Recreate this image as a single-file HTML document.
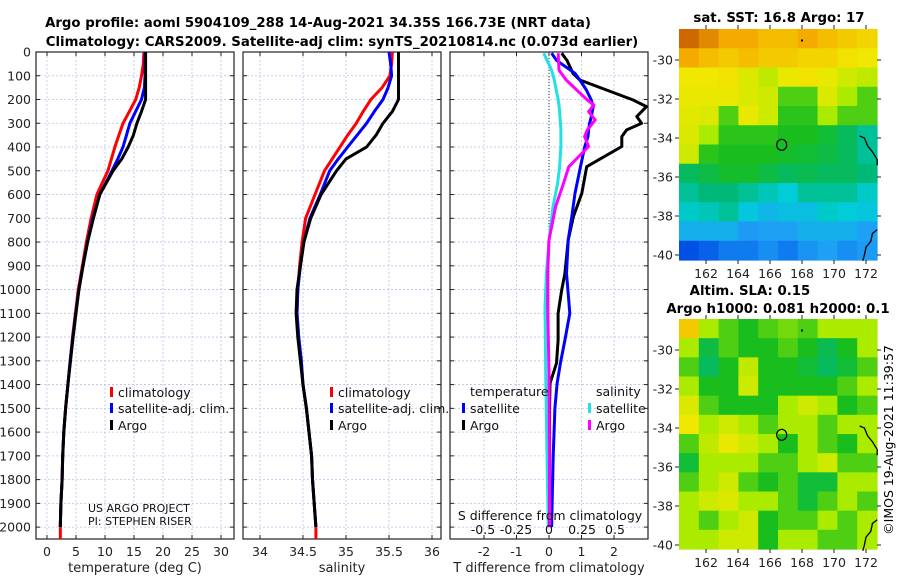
<!DOCTYPE html>
<html><head><meta charset="utf-8">
<style>
html,body{margin:0;padding:0;background:#fff;}
svg{display:block;font-family:"DejaVu Sans","Liberation Sans",sans-serif;}
</style></head>
<body>
<svg id="chart" width="900" height="580" viewBox="0 0 900 580" xmlns="http://www.w3.org/2000/svg">
<text x="318" y="27" font-size="13.3" font-weight="bold" text-anchor="middle">Argo profile: aoml 5904109_288 14-Aug-2021 34.35S 166.73E (NRT data)</text>
<text x="342" y="46" font-size="13.3" font-weight="bold" text-anchor="middle">Climatology: CARS2009. Satellite-adj clim: synTS_20210814.nc (0.073d earlier)</text>
<g id="g1"></g>
<g id="g2"></g>
<g id="g3"></g>
<g id="m1"></g>
<g id="m2"></g>
<text x="779" y="22" font-size="13.3" font-weight="bold" text-anchor="middle">sat. SST: 16.8 Argo: 17</text>
<text x="750" y="295" font-size="13.3" font-weight="bold" text-anchor="middle">Altim. SLA: 0.15</text>
<text x="778" y="313" font-size="13.3" font-weight="bold" text-anchor="middle">Argo h1000: 0.081 h2000: 0.1</text>
<text transform="translate(893,440) rotate(-90)" font-size="12.5" text-anchor="middle">©IMOS 19-Aug-2021 11:39:57</text>
</svg>
<script>
// ---------- data ----------
const depths = [0,50,100,150,200,250,300,350,400,450,500,600,700,800,900,1000,1100,1200,1300,1400,1500,1600,1700,1800,1900,2000];
const tempClim = [16.7,16.6,16.3,15.9,15.3,14.2,13.1,12.4,11.7,11.1,10.5,8.6,7.6,6.8,6.1,5.4,4.9,4.4,4.0,3.6,3.2,2.9,2.7,2.6,2.4,2.3];
const tempSat  = [16.9,16.9,16.9,16.8,16.3,15.3,14.3,13.7,13.1,12.2,11.2,9.1,7.9,7.0,6.2,5.5,4.95,4.45,4.0,3.6,3.2,2.9,2.7,2.6,2.4,2.3];
const tempArgo = [17.0,17.0,17.0,17.0,17.0,16.3,15.5,14.9,14.0,12.9,11.4,9.1,8.0,7.0,6.2,5.5,5.0,4.5,4.05,3.6,3.2,2.9,2.7,2.6,2.4,2.3];
const salClim = [35.54,35.53,35.51,35.42,35.29,35.2,35.12,35.02,34.93,34.84,34.75,34.64,34.53,34.49,34.46,34.44,34.43,34.45,34.48,34.50,34.54,34.57,34.60,34.61,34.63,34.65];
const salSat  = [35.50,35.52,35.53,35.49,35.43,35.33,35.24,35.13,35.02,34.91,34.81,34.70,34.58,34.51,34.47,34.44,34.43,34.45,34.48,34.50,34.54,34.57,34.60,34.61,34.63,34.65];
const salArgo = [35.61,35.61,35.61,35.61,35.61,35.54,35.43,35.35,35.24,35.0,34.89,34.71,34.59,34.51,34.47,34.43,34.42,34.44,34.47,34.50,34.54,34.57,34.60,34.61,34.63,34.65];
const tdDepth = [5,35,90,118,160,202,230,272,300,328,356,398,483,595,693,792,932,1002,1100,1213,1310,1395,1500,1700,2000];
const tdiffArgo = [0.39,0.55,0.74,0.95,1.77,2.59,3.0,2.7,2.85,2.39,2.24,2.24,1.16,1.01,0.75,0.59,0.49,0.39,0.28,0.28,0.23,0.03,0.02,0.02,0.02];
const tdiffSat  = [0.08,0.23,0.8,0.95,1.15,1.3,1.36,1.3,1.25,1.22,1.2,1.1,0.97,0.8,0.7,0.59,0.54,0.58,0.64,0.49,0.35,0.25,0.18,0.13,0.08];
const sdDepth = [5,76,118,202,223,251,286,328,356,398,483,553,651,792,932,1072,1353,1700,2000];
const sdiffArgo = [0.07,0.076,0.13,0.29,0.34,0.30,0.35,0.29,0.27,0.30,0.15,0.11,0.05,0.0,-0.01,-0.01,0.0,0.003,0.005];
const sdiffSat  = [-0.04,0.02,0.04,0.07,0.076,0.08,0.085,0.09,0.09,0.09,0.08,0.065,0.03,0.0,-0.02,-0.03,-0.025,-0.015,-0.005];
const depthTicks = [0,100,200,300,400,500,600,700,800,900,1000,1100,1200,1300,1400,1500,1600,1700,1800,1900,2000];
const tempTicks = [0,5,10,15,20,25,30];
const salTicks = [34,34.5,35,35.5,36];
const tdTicks = [-2,-1,0,1,2];
const sdTicks = [-0.5,-0.25,0,0.25,0.5];
const latTicks = [-30,-32,-34,-36,-38,-40];
const lonTicks = [162,164,166,168,170,172];
const sstGrid = [
[0.85,0.8,0.75,0.75,0.72,0.72,0.75,0.72,0.7,0.68],
[0.75,0.72,0.7,0.72,0.7,0.7,0.68,0.68,0.66,0.65],
[0.65,0.65,0.66,0.62,0.58,0.64,0.66,0.64,0.6,0.58],
[0.64,0.64,0.64,0.62,0.6,0.5,0.5,0.62,0.55,0.5],
[0.63,0.62,0.5,0.64,0.6,0.48,0.48,0.55,0.5,0.5],
[0.62,0.55,0.48,0.48,0.48,0.47,0.47,0.45,0.42,0.38],
[0.6,0.48,0.47,0.47,0.47,0.46,0.45,0.44,0.42,0.38],
[0.42,0.44,0.46,0.46,0.44,0.42,0.43,0.42,0.42,0.4],
[0.38,0.4,0.4,0.38,0.36,0.34,0.38,0.38,0.38,0.35],
[0.35,0.36,0.38,0.33,0.31,0.32,0.32,0.35,0.34,0.33],
[0.3,0.3,0.3,0.27,0.28,0.28,0.3,0.3,0.3,0.28],
[0.15,0.18,0.22,0.22,0.25,0.22,0.26,0.28,0.25,0.27]];
const slaGrid = [
[0.7,0.55,0.5,0.47,0.5,0.52,0.5,0.55,0.55,0.55],
[0.55,0.44,0.5,0.47,0.47,0.5,0.47,0.43,0.47,0.55],
[0.5,0.42,0.47,0.58,0.47,0.47,0.45,0.42,0.45,0.5],
[0.55,0.47,0.47,0.6,0.47,0.47,0.47,0.47,0.5,0.55],
[0.62,0.5,0.47,0.47,0.47,0.55,0.6,0.55,0.47,0.5],
[0.65,0.55,0.6,0.55,0.5,0.55,0.55,0.5,0.55,0.55],
[0.5,0.58,0.64,0.6,0.55,0.47,0.55,0.5,0.47,0.55],
[0.45,0.55,0.55,0.55,0.5,0.5,0.55,0.6,0.5,0.5],
[0.5,0.55,0.6,0.5,0.47,0.5,0.45,0.45,0.55,0.55],
[0.55,0.6,0.62,0.55,0.55,0.5,0.45,0.5,0.55,0.5],
[0.55,0.5,0.55,0.6,0.47,0.5,0.5,0.55,0.5,0.55],
[0.55,0.55,0.6,0.6,0.47,0.55,0.55,0.5,0.5,0.55]];
const argoLon = 166.73, argoLat = -34.35;

// ---------- helpers ----------
const NS="http://www.w3.org/2000/svg";
function mk(parent,tag,attrs,text){const e=document.createElementNS(NS,tag);for(const k in attrs)e.setAttribute(k,attrs[k]);if(text!==undefined)e.textContent=text;parent.appendChild(e);return e;}
const yTop=52, yBot=539;
const yD = d => yTop + d*(yBot-yTop)/2050;
function lin(d0,d1,r0,r1){return v=>r0+(v-d0)*(r1-r0)/(d1-d0);}
function fmt(v){return String(v);}

function panel(g,x0,x1,xs,xticks,showY){
  xticks.forEach(t=>{const l=mk(g,'line',{x1:xs(t),x2:xs(t),y1:yTop,y2:yBot,stroke:'#b8c4e8','stroke-width':0.8,'stroke-dasharray':'2,2'});
    
    });
  depthTicks.forEach(d=>{const l=mk(g,'line',{x1:x0,x2:x1,y1:yD(d),y2:yD(d),stroke:'#b8c4e8','stroke-width':0.8,'stroke-dasharray':'2,2'});
    
    
    mk(g,'line',{x1:x0,x2:x0+4,y1:yD(d),y2:yD(d),stroke:'#222'});
    mk(g,'line',{x1:x1-4,x2:x1,y1:yD(d),y2:yD(d),stroke:'#222'});
    if(showY){const t=mk(g,'text',{x:x0-5,y:yD(d)+4.5,'font-size':12.5,'text-anchor':'end',fill:'#222'},d);
      
      }
  });
  xticks.forEach(t=>{mk(g,'line',{x1:xs(t),x2:xs(t),y1:yBot,y2:yBot-4,stroke:'#222'});mk(g,'line',{x1:xs(t),x2:xs(t),y1:yTop,y2:yTop+4,stroke:'#222'});});
  const r=mk(g,'rect',{x:x0,y:yTop,width:x1-x0,height:yBot-yTop,fill:'none',stroke:'#222','stroke-width':1.2});
  
  
}
function line(g,xs,dArr,vArr,color,w,name){
  const pts=vArr.map((v,i)=>xs(v).toFixed(1)+','+yD(dArr[i]).toFixed(1)).join(' ');
  const p=mk(g,'polyline',{points:pts,fill:'none',stroke:color,'stroke-width':w,'stroke-linejoin':'round'});
  
  
}
function xlabels(g,xs,ticks,y){ticks.forEach(t=>{const e=mk(g,'text',{x:xs(t),y:y,'font-size':12.5,'text-anchor':'middle',fill:'#222'},fmt(t));
  
  });}
function legendEntry(g,x,y,color,label){
  mk(g,'rect',{x:x,y:y-10,width:3,height:10,fill:color});
  const t=mk(g,'text',{x:x+8,y:y,'font-size':12.5,fill:'#111'},label);
  
  
}

// ---------- panel 1 ----------
const g1=document.getElementById('g1');
const xT=lin(0,30,47,221);
panel(g1,36,234,xT,tempTicks,true);
line(g1,xT,depths,tempClim,'#ff0000',3,'temp-climatology-line');
line(g1,xT,depths,tempSat,'#0000ff',3,'temp-satellite-line');
line(g1,xT,depths,tempArgo,'#000000',3,'temp-argo-line');
mk(g1,'line',{x1:xT(tempClim[25]),x2:xT(tempClim[25]),y1:yD(2000),y2:yBot,stroke:'#ff0000','stroke-width':3});
legendEntry(g1,110,397,'#ff0000','climatology');
legendEntry(g1,110,413,'#0000ff','satellite-adj. clim.');
legendEntry(g1,110,430,'#000000','Argo');
mk(g1,'text',{x:88,y:512,'font-size':11,fill:'#111'},'US ARGO PROJECT');
mk(g1,'text',{x:88,y:525,'font-size':11,fill:'#111'},'PI: STEPHEN RISER');
xlabels(g1,xT,tempTicks,556);
mk(g1,'text',{x:135,y:572,'font-size':13,'text-anchor':'middle',fill:'#222'},'temperature (deg C)');

// ---------- panel 2 ----------
const g2=document.getElementById('g2');
const xS=lin(34,36,260,432);
panel(g2,243,441,xS,salTicks,false);
line(g2,xS,depths,salClim,'#ff0000',3,'sal-climatology-line');
line(g2,xS,depths,salSat,'#0000ff',3,'sal-satellite-line');
line(g2,xS,depths,salArgo,'#000000',3,'sal-argo-line');
mk(g2,'line',{x1:xS(salClim[25]),x2:xS(salClim[25]),y1:yD(2000),y2:yBot,stroke:'#ff0000','stroke-width':3});
legendEntry(g2,330,397,'#ff0000','climatology');
legendEntry(g2,330,413,'#0000ff','satellite-adj. clim.');
legendEntry(g2,330,430,'#000000','Argo');
xlabels(g2,xS,salTicks,556);
mk(g2,'text',{x:342,y:572,'font-size':13,'text-anchor':'middle',fill:'#222'},'salinity');

// ---------- panel 3 ----------
const g3=document.getElementById('g3');
const xTd=lin(0,1,549,581.5);
const xSd=lin(0,1,549,681);
panel(g3,450,648,xTd,tdTicks,false);
mk(g3,'line',{x1:549,x2:549,y1:yTop,y2:yD(1400),stroke:'#333','stroke-width':1,'stroke-dasharray':'1,2'});
line(g3,xSd,sdDepth,sdiffSat,'#22e0e8',3,'sdiff-satellite-line');
line(g3,xTd,tdDepth,tdiffArgo,'#000000',3,'tdiff-argo-line');
line(g3,xTd,tdDepth,tdiffSat,'#0000ff',3,'tdiff-satellite-line');
line(g3,xSd,sdDepth,sdiffArgo,'#ff00ff',3,'sdiff-argo-line');
mk(g3,'text',{x:470,y:396,'font-size':12.5,fill:'#111'},'temperature');
legendEntry(g3,462,413,'#0000ff','satellite');
legendEntry(g3,462,430,'#000000','Argo');
mk(g3,'text',{x:596,y:396,'font-size':12.5,fill:'#111'},'salinity');
legendEntry(g3,588,413,'#22e0e8','satellite');
legendEntry(g3,588,430,'#ff00ff','Argo');
mk(g3,'text',{x:550,y:520,'font-size':12.5,'text-anchor':'middle',fill:'#111'},'S difference from climatology');
sdTicks.forEach(t=>{const e=mk(g3,'text',{x:xSd(t),y:534,'font-size':12.5,'text-anchor':'middle',fill:'#111'},fmt(t));
  
  });
xlabels(g3,xTd,tdTicks,556);
mk(g3,'text',{x:549,y:572,'font-size':13,'text-anchor':'middle',fill:'#222'},'T difference from climatology');

// ---------- maps ----------
const stops=[[0,[0,20,150]],[0.15,[0,80,230]],[0.28,[30,160,245]],[0.34,[0,205,215]],[0.4,[0,185,120]],[0.47,[25,190,30]],[0.55,[170,235,0]],[0.65,[240,232,0]],[0.75,[245,170,0]],[0.85,[205,105,0]],[1,[150,50,0]]];
function cmap(v){for(let i=1;i<stops.length;i++){if(v<=stops[i][0]){const a=stops[i-1],b=stops[i];const f=(v-a[0])/(b[0]-a[0]);return 'rgb('+a[1].map((c,k)=>Math.round(c+(b[1][k]-c)*f)).join(',')+')';}}return 'rgb(150,50,0)';}
function map(g,grid,x0,x1,y0,y1,lat30y,lat40y){
  const lonX=lin(162,172,706,866);
  const latY=lin(-30,-40,lat30y,lat40y);
  const rows=grid.length, cols=grid[0].length;
  const cw=(x1-x0)/cols, ch=(y1-y0)/rows;
  grid.forEach((row,r)=>row.forEach((v,c)=>{
    const e=mk(g,'rect',{x:(x0+c*cw).toFixed(2),y:(y0+r*ch).toFixed(2),width:(cw+0.6).toFixed(2),height:(ch+0.6).toFixed(2),fill:cmap(v)});
    
    
  }));
  const coast1=[[171.6,-33.9],[171.9,-34.0],[172.1,-34.4],[172.4,-34.7],[172.7,-35.1],[172.7,-35.4]];
  const coast2=[[172.7,-38.7],[172.4,-38.9],[172.3,-39.3],[172.0,-39.6],[171.9,-40.0],[171.8,-40.3]];
  [coast1,coast2].forEach(cs=>{const p=mk(g,'polyline',{points:cs.map(c=>lonX(c[0]).toFixed(1)+','+latY(c[1]).toFixed(1)).join(' '),fill:'none',stroke:'#000','stroke-width':1.3});
    
    });
  mk(g,'rect',{x:lonX(168)-1,y:latY(-29)-1,width:2,height:2,fill:'#000'});
  const c=mk(g,'ellipse',{cx:lonX(argoLon),cy:latY(argoLat),rx:5,ry:5.5,fill:'none',stroke:'#000','stroke-width':1.2});
  
  
  latTicks.forEach(t=>{const y=latY(t);
    mk(g,'line',{x1:x1,x2:x1+4,y1:y,y2:y,stroke:'#222'});
    mk(g,'line',{x1:x0-4,x2:x0,y1:y,y2:y,stroke:'#222'});
    const e=mk(g,'text',{x:x0-6,y:y+4.5,'font-size':12.5,'text-anchor':'end',fill:'#222'},t);
    
    });
  lonTicks.forEach(t=>{const x=lonX(t);mk(g,'line',{x1:x,x2:x,y1:y0,y2:y0-4,stroke:'#222'});mk(g,'line',{x1:x,x2:x,y1:y1,y2:y1+4,stroke:'#222'});
    const e=mk(g,'text',{x:x,y:y1+18,'font-size':12.5,'text-anchor':'middle',fill:'#222'},t);
    
    });
}
map(document.getElementById('m1'),sstGrid,679,877,29,260,60,255);
map(document.getElementById('m2'),slaGrid,679,877,319,549,350,545);
</script>
</body></html>
